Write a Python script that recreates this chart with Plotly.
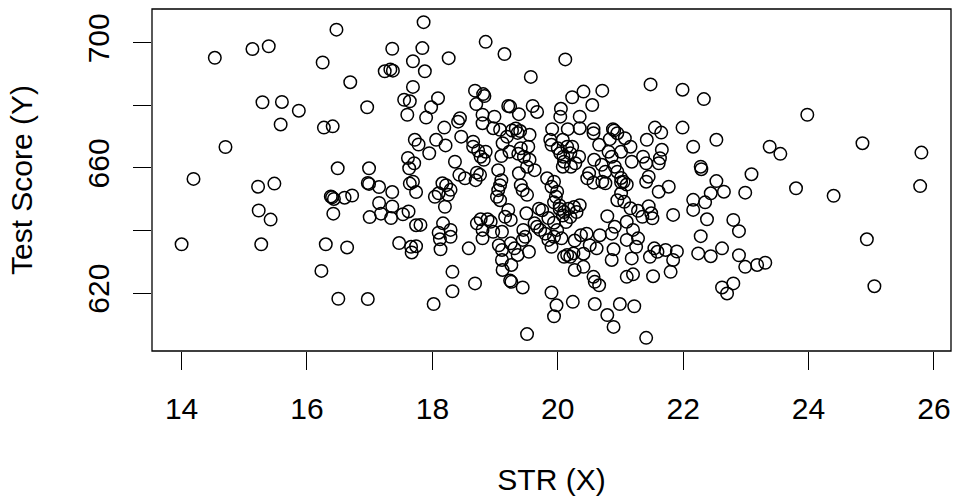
import plotly.graph_objects as go

# Student-teacher ratio (X) and test score (Y)
str_x = [
    14.00, 14.19, 14.53, 14.70, 15.13, 15.39, 15.27, 15.23, 15.42, 15.22, 15.48, 15.29, 15.60, 15.87, 15.58,
    16.25, 16.47, 16.27, 16.41, 16.69, 16.96, 16.23, 16.30, 16.64, 16.50, 16.97, 16.49, 16.99, 16.40, 16.38,
    16.43, 16.60, 16.72, 16.42, 16.97, 16.99, 17.15, 17.36, 17.15, 17.36, 17.18, 17.34, 17.00, 17.24, 17.33,
    17.37, 17.36, 17.47,
    17.53, 17.62, 17.66, 17.67, 17.74, 17.74, 17.64, 17.74, 17.69, 17.63, 17.71, 17.61, 17.72, 17.78, 17.95,
    17.60, 17.90, 17.98, 17.55, 17.64, 17.69, 17.69, 17.84, 17.88, 17.86, 18.09, 18.26, 18.06, 18.21, 18.19,
    18.36, 18.44, 18.41, 18.46, 18.43, 18.04, 18.10, 18.22, 18.16, 18.29, 18.25, 18.20, 18.17, 18.10, 18.12,
    18.13, 18.29, 18.29, 18.32, 18.32, 18.02, 17.81,
    18.52, 18.71, 18.76, 18.69, 18.85, 18.77, 18.82, 18.65, 18.73, 18.65, 18.68, 18.81, 18.83, 18.70, 18.80,
    18.80, 18.99, 18.97, 18.85, 19.15, 19.21, 19.24, 19.38, 19.08, 19.27, 19.33, 19.40, 19.36, 19.19, 19.12,
    19.10, 19.05, 19.10, 19.08, 19.05, 19.03, 19.08, 19.23, 19.37, 19.41, 19.46, 19.51, 19.38, 19.41, 19.51,
    19.44, 18.77, 18.88, 18.93, 18.71, 18.80, 18.80, 18.58, 18.97, 19.11, 19.06, 19.11, 19.11, 19.16, 19.21,
    19.25, 19.36, 19.31, 19.25, 19.26, 19.12, 19.26, 19.24, 19.44, 18.68, 19.50, 19.45, 19.48, 19.44,
    19.51, 19.54, 19.57, 19.60, 19.67, 19.55, 19.53, 19.55, 19.63, 19.83, 19.94, 19.90, 19.99, 19.97, 19.90,
    20.00, 20.04, 20.09, 20.08, 20.15, 20.20, 20.10, 20.08, 20.21, 19.91, 19.88, 20.05, 20.04, 20.12, 20.16,
    20.35, 20.35, 20.34, 20.28, 20.23, 20.47, 20.41, 20.23, 19.72, 19.67, 19.63, 19.85, 19.90, 19.80, 20.06,
    19.99, 19.94, 19.94, 19.75, 19.70, 19.85, 19.94, 20.03, 20.08, 20.13, 20.03, 20.10, 20.17, 20.26, 20.30,
    20.35, 20.20, 20.15, 20.10, 20.20, 20.25, 20.27, 20.37, 20.41, 20.27, 19.90, 19.98, 19.94, 20.24, 20.46,
    20.50, 20.57, 20.58, 20.70, 20.66, 20.57, 20.57, 20.55, 20.71, 20.81, 20.86, 20.91, 20.95, 20.76, 20.71,
    20.76, 21.01, 21.05, 21.10, 21.01, 21.18, 21.01, 21.16, 20.88, 20.90, 20.95, 20.83, 21.07, 21.36, 21.41,
    21.41, 21.45, 21.42, 21.48, 21.01, 21.06, 20.95, 21.16, 21.28, 21.35, 21.49, 21.45, 20.79, 20.91, 20.86,
    21.10, 21.20, 21.10, 21.28, 21.25, 20.89, 20.86, 20.67, 20.62, 20.51, 20.41, 20.57, 20.59, 20.66, 21.18,
    21.20, 21.10, 21.47, 20.59, 20.79, 20.89, 20.99, 21.22, 21.41,
    21.51, 21.54, 21.59, 21.52, 21.61, 21.63, 21.66, 21.61, 21.55, 21.65, 21.99, 22.33, 21.99, 22.16, 22.53,
    23.38, 23.55, 23.98, 24.86, 25.80, 25.78, 23.80, 24.40, 24.93, 25.05, 22.28, 22.29, 22.53, 22.65, 22.44,
    22.99, 23.09, 21.77, 22.16, 22.16, 22.35, 22.38, 21.84, 22.80, 22.89, 22.28, 22.62, 22.24, 22.44, 22.89,
    22.99, 23.18, 23.31, 22.80, 22.62, 22.70, 21.72, 21.90, 21.84, 21.80,
]

test_score = [
    635.6, 656.5, 695.2, 666.7, 698.0, 698.9, 635.6, 646.4, 643.5, 654.0, 655.0, 681.0, 681.1, 678.3, 673.9,
    693.7, 704.2, 672.9, 673.3, 687.4, 679.4, 627.1, 635.6, 634.6, 618.2, 618.1, 659.9, 659.9, 650.6, 650.9,
    650.1, 650.5, 651.2, 645.4, 655.2, 654.9, 653.9, 652.3, 648.8, 647.7, 645.4, 644.0, 644.3, 690.9, 691.5,
    691.1, 698.1, 636.0,
    645.2, 646.1, 634.8, 633.0, 635.0, 641.7, 655.0, 652.3, 655.6, 659.9, 661.5, 663.2, 669.0, 667.5, 664.7,
    677.0, 676.1, 679.4, 681.8, 681.3, 685.9, 694.1, 698.3, 690.9, 706.6, 682.3, 695.1, 669.0, 667.2, 672.9,
    662.0, 675.9, 674.8, 670.0, 657.8, 650.8, 651.9, 654.5, 655.1, 653.0, 651.4, 647.6, 642.3, 639.3, 637.2,
    634.0, 640.2, 638.0, 626.8, 620.6, 616.5, 641.8,
    656.7, 658.5, 657.8, 656.1, 665.2, 663.6, 662.6, 666.8, 665.5, 668.4, 684.7, 683.6, 683.0, 680.4, 677.0,
    674.3, 676.4, 672.7, 700.3, 696.4, 679.8, 679.6, 677.2, 672.2, 672.0, 672.6, 671.8, 671.2, 670.0, 667.9,
    663.8, 659.3, 656.1, 654.5, 652.9, 650.8, 649.7, 665.2, 664.5, 666.3, 663.6, 660.4, 658.3, 654.5, 651.4,
    652.9, 643.6, 643.6, 642.8, 642.3, 640.2, 637.5, 634.3, 639.6, 639.6, 635.3, 630.6, 633.8, 644.4, 646.6,
    643.4, 632.2, 634.3, 635.9, 629.0, 627.4, 623.6, 624.0, 621.8, 623.1, 645.5, 640.2, 638.0, 637.0,
    606.9, 633.2, 689.1, 679.8, 677.9, 670.6, 666.8, 662.6, 659.3, 656.7, 655.6, 654.0, 652.4, 650.8, 667.4,
    666.3, 664.7, 663.6, 669.0, 666.8, 664.7, 662.0, 660.4, 660.4, 672.4, 669.0, 678.9, 676.4, 694.7, 672.4,
    672.7, 676.4, 663.6, 661.5, 666.8, 656.7, 684.4, 682.6, 640.2, 641.2, 642.3, 637.0, 634.8, 639.0, 637.5,
    640.2, 638.0, 642.5, 646.5, 647.0, 644.0, 649.0, 646.9, 644.8, 642.7, 648.0, 645.9, 647.0, 647.5, 645.9,
    648.1, 644.3, 632.2, 631.6, 631.6, 632.7, 636.8, 638.5, 628.4, 627.4, 620.2, 616.1, 612.6, 617.2, 639.0,
    658.3, 655.3, 662.6, 661.0, 667.4, 672.4, 671.1, 680.1, 684.7, 665.2, 663.6, 660.4, 658.8, 658.8, 655.6,
    655.1, 656.8, 655.6, 654.7, 655.4, 662.0, 665.2, 666.8, 672.4, 672.0, 671.1, 669.2, 669.5, 663.6, 661.5,
    655.6, 657.2, 669.0, 686.7, 651.9, 649.2, 649.7, 647.1, 646.3, 644.4, 645.5, 647.8, 644.6, 641.2, 639.0,
    642.8, 640.2, 637.0, 637.5, 634.8, 634.0, 630.6, 638.5, 634.3, 635.3, 632.6, 625.2, 623.6, 622.5, 631.1,
    626.0, 625.2, 631.6, 616.5, 613.0, 609.2, 616.5, 615.8, 605.7,
    643.9, 634.3, 633.2, 625.4, 661.5, 663.1, 665.8, 652.4, 672.9, 671.3, 685.0, 682.0, 672.9, 666.8, 669.0,
    666.8, 664.5, 677.0, 667.9, 664.9, 654.2, 653.5, 651.1, 637.2, 622.2, 660.4, 659.6, 655.8, 652.4, 651.9,
    652.1, 658.0, 654.0, 649.8, 646.6, 649.0, 643.6, 645.0, 643.4, 639.8, 638.2, 634.3, 632.7, 631.8, 632.1,
    628.4, 629.0, 629.7, 623.1, 621.8, 619.9, 633.8, 633.3, 630.6, 626.8,
]

x_ticks = [14, 16, 18, 20, 22, 24, 26]
y_ticks = [620, 640, 660, 680, 700]
y_tick_text = ["620", "", "660", "", "700"]

FONT = "Liberation Sans, Arial, Helvetica, sans-serif"
FS = 30

fig = go.Figure()
fig.add_trace(go.Scatter(
    x=str_x, y=test_score, mode="markers",
    marker=dict(symbol="circle-open", size=12.5, color="black", line=dict(width=1.5, color="black")),
    hoverinfo="x+y", showlegend=False,
))

# plot box
fig.add_shape(type="rect", xref="paper", yref="paper", x0=0, y0=0, x1=1, y1=1,
              line=dict(color="black", width=1.3), fillcolor="rgba(0,0,0,0)")

fig.update_layout(
    width=955, height=496,
    margin=dict(l=152, r=4, t=9, b=145, autoexpand=False),
    paper_bgcolor="white", plot_bgcolor="white",
    font=dict(family=FONT, size=FS, color="black"),
    xaxis=dict(
        range=[13.528, 26.272], tickvals=x_ticks, ticks="outside", ticklen=18, tickwidth=1.3,
        tickcolor="black", showgrid=False, zeroline=False, showline=False, automargin=False,
        tickfont=dict(size=FS), ticklabelstandoff=13,
        title=dict(text="STR (X)", font=dict(size=FS), standoff=45),
    ),
    yaxis=dict(
        range=[601.5, 710.8], tickvals=y_ticks, ticktext=y_tick_text, ticks="outside", ticklen=18,
        tickwidth=1.3, tickcolor="black", showgrid=False, zeroline=False, showline=False, automargin=False,
        tickangle=-90, tickfont=dict(size=FS), ticklabelstandoff=12,
        title=dict(text="Test Score (Y)", font=dict(size=FS), standoff=40),
    ),
)

fig.write_html(
    "out.html",
    config={"displayModeBar": False},
    post_script="document.body.style.margin='0';document.body.style.overflow='hidden';",
)
